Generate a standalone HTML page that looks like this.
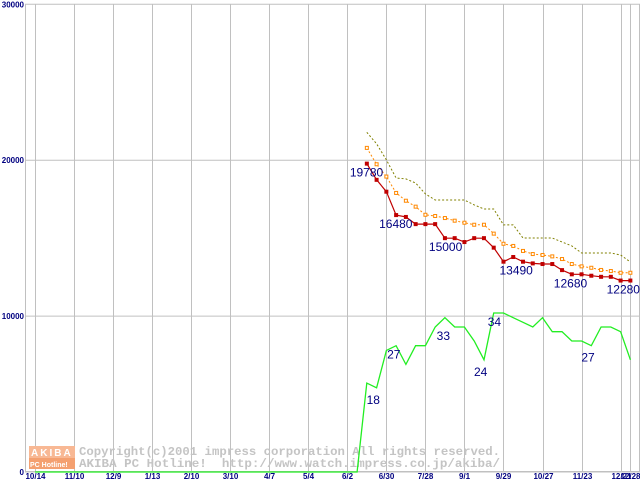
<!DOCTYPE html>
<html><head><meta charset="utf-8"><style>
body{margin:0;background:#fff}
svg{display:block;font-family:"Liberation Sans",sans-serif}
</style></head><body>
<svg id="c" width="640" height="480">
<g id="grid"></g>
<g id="wm">
<rect x="29" y="446" width="46" height="12" fill="#f8b894"/>
<rect x="29" y="458" width="46" height="11" fill="#f4a070"/>
<text x="31" y="456" font-size="10" font-weight="bold" fill="#fff" letter-spacing="2">AKIBA</text>
<text x="30" y="467" font-size="7" font-weight="bold" fill="#fff">PC Hotline!</text>
<text x="79" y="455" font-family="Liberation Mono,monospace" font-size="12" textLength="421" lengthAdjust="spacingAndGlyphs" fill="#c4c4c4" font-weight="bold">Copyright(c)2001 impress corporation All rights reserved.</text>
<text x="79" y="467" font-family="Liberation Mono,monospace" font-size="12" textLength="421" lengthAdjust="spacingAndGlyphs" fill="#c4c4c4" font-weight="bold" xml:space="preserve">AKIBA PC Hotline!  http://www.watch.impress.co.jp/akiba/</text>
</g>
<g id="series"></g>
<g id="labels"></g>
</svg>
<script>
const tickIdx=[0,4,8,12,16,20,24,28,32,36,40,44,48,52,56,60,61];
const tickLabels=["10/14","11/10","12/9","1/13","2/10","3/10","4/7","5/4","6/2","6/30","7/28","9/1","9/29","10/27","11/23","12/21","12/28"];
const yTicks=[0,10000,20000,30000];
const startIdx=34;
const minPrice=[19780,18740,17980,16480,16360,15900,15900,15900,15000,15000,14750,15000,15000,14390,13490,13790,13490,13380,13340,13340,12950,12680,12680,12590,12520,12520,12280,12280];
const avgPrice=[20790,19740,18950,17900,17400,17020,16500,16420,16290,16120,15990,15860,15860,15290,14640,14500,14180,13980,13920,13830,13660,13340,13190,13100,12960,12890,12780,12780];
const maxPrice=[21790,21050,20020,18860,18800,18540,17840,17450,17450,17450,17450,17130,16870,16870,15850,15850,15010,15010,15010,15010,14750,14500,14050,14050,14050,14050,13920,13470];
const shops=[19,18,26,27,23,27,27,31,33,31,31,28,24,34,34,33,32,31,33,30,30,28,28,27,31,31,30,24];
const leadZeros=34;
const priceLabels=[[0,19780,-17,13],[3,16480,-17,13],[8,15000,-16,13],[14,13490,-4,13],[21,12680,-18,13],[26,12280,-14,13]];
const shopLabels=[[1,18,-12,16],[3,27,-11,13],[9,33,-20,13],[12,24,-12,16],[13,34,-8,13],[23,27,-12,16]];
const NS="http://www.w3.org/2000/svg";
const X=i=>35+i*9.76;
const Y=v=>472-v*0.01559;
const SY=n=>Y(n*300);
function el(tag,attrs,parent){const e=document.createElementNS(NS,tag);for(const k in attrs)e.setAttribute(k,attrs[k]);parent.appendChild(e);return e;}
const grid=document.getElementById('grid'),ser=document.getElementById('series'),lab=document.getElementById('labels');
yTicks.forEach(v=>{
 const l=el('line',{x1:25,x2:640,y1:Y(v),y2:Y(v),stroke:'#c0c0c0'},grid);
 
 
 const t=el('text',{x:24,y:Y(v)+3,'text-anchor':'end','font-size':8,'font-weight':'bold',fill:'#000080'},grid);
 t.textContent=v;
 
 
});
const ax=el('line',{x1:25.5,x2:25.5,y1:4,y2:472,stroke:'#c0c0c0'},grid);


const rb=el('line',{x1:639.5,x2:639.5,y1:4,y2:472,stroke:'#c0c0c0'},grid);


tickIdx.forEach((idx,k)=>{
 const x=Math.round(X(idx))+0.5;
 const l=el('line',{x1:x,x2:x,y1:4,y2:472,stroke:'#c0c0c0'},grid);
 
 
 const t=el('text',{x:x,y:479,'text-anchor':'middle','font-size':8,'font-weight':'bold',fill:'#000080'},grid);
 t.textContent=tickLabels[k];
 
 
});
const bx=el('line',{x1:25,x2:640,y1:471.5,y2:471.5,stroke:'#c0c0c0'},grid);


function pts(arr,f,off){return arr.map((v,i)=>X(i+off).toFixed(1)+','+f(v).toFixed(1)).join(' ');}
const sh=Array(leadZeros).fill(0).concat(shops);
const g=el('polyline',{points:pts(sh,SY,0),fill:'none',stroke:'#22ee22','stroke-width':1.3},ser);


const mx=el('polyline',{points:pts(maxPrice,Y,startIdx),fill:'none',stroke:'#808000','stroke-dasharray':'2,2'},ser);


const av=el('polyline',{points:pts(avgPrice,Y,startIdx),fill:'none',stroke:'#ff8800','stroke-dasharray':'2,2'},ser);


avgPrice.forEach((v,i)=>{
 const r=el('rect',{x:X(i+startIdx)-1.5,y:Y(v)-1.5,width:3,height:3,fill:'#fff',stroke:'#ff8800','stroke-width':1},ser);
 
 
});
const mn=el('polyline',{points:pts(minPrice,Y,startIdx),fill:'none',stroke:'#c00000','stroke-width':1.2},ser);


minPrice.forEach((v,i)=>{
 const r=el('rect',{x:X(i+startIdx)-2,y:Y(v)-2,width:4,height:4,fill:'#c00000'},ser);
 
 
});
priceLabels.forEach(([i,v,dx,dy])=>{
 const t=el('text',{x:X(i+startIdx)+dx,y:Y(minPrice[i])+dy,'font-size':12,fill:'#000080'},lab);
 t.textContent=v;
 
 
});
shopLabels.forEach(([i,v,dx,dy])=>{
 const t=el('text',{x:X(i+startIdx)+dx+2,y:SY(shops[i])+dy,'font-size':12,fill:'#000080'},lab);
 t.textContent=v;
 
 
});
</script>
</body></html>
